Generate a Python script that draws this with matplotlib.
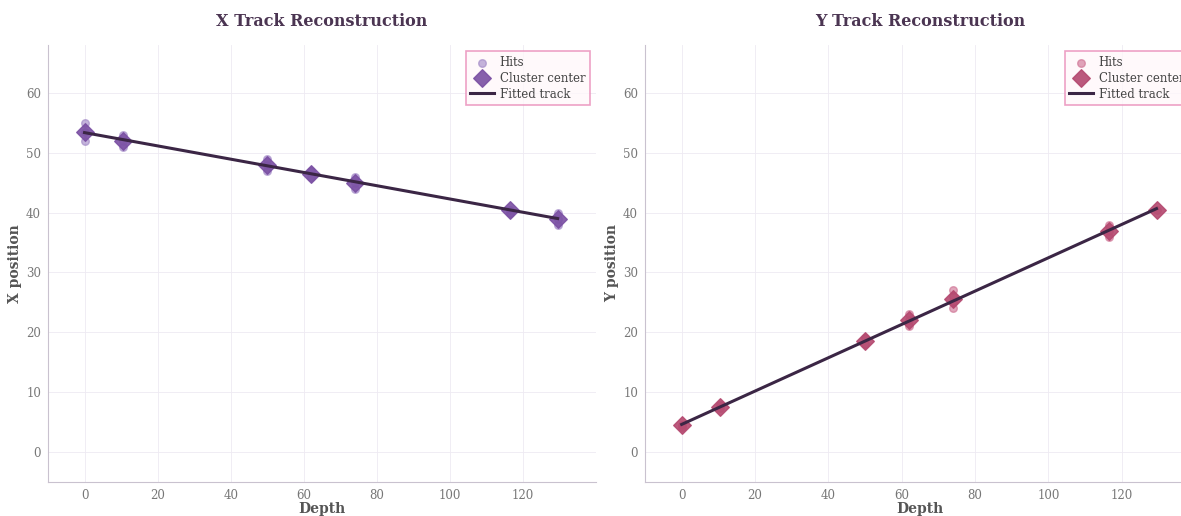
import matplotlib.pyplot as plt
import numpy as np

plt.rcParams['font.family'] = ['DejaVu Serif']

# cluster depths and centres
depths = [0, 10.5, 50, 62, 74, 116.5, 129.5]
x_centers = [53.5, 52.0, 48.0, 46.5, 45.0, 40.5, 39.0]
y_centers = [4.5, 7.5, 18.5, 22.0, 25.5, 37.0, 40.5]

# individual hits
x_hit_depth = [0, 0, 0, 10.5, 10.5, 10.5, 50, 50, 50, 62, 62, 74, 74, 74,
               116.5, 116.5, 129.5, 129.5, 129.5]
x_hit_pos = [55, 53.5, 52, 53, 52, 51, 49, 48, 47, 47, 46, 46, 45, 44,
             40.5, 40, 40, 39, 38]
y_hit_depth = [0, 0, 10.5, 10.5, 50, 50, 62, 62, 62, 74, 74, 74, 74,
               116.5, 116.5, 116.5, 129.5]
y_hit_pos = [4.5, 4.2, 7.8, 7.3, 19, 18, 23, 22, 21, 27, 26, 25, 24,
             38, 37, 36, 40.5]

fig = plt.figure(figsize=(11.81, 5.16), dpi=100)
ax1 = fig.add_axes([48/1181, 34/516, 548/1181, 437/516])
ax2 = fig.add_axes([645/1181, 34/516, 550/1181, 437/516])

panels = [
    (ax1, x_hit_depth, x_hit_pos, x_centers, '#9d83c4', '#7a4fa3', 'X position', 'X Track Reconstruction'),
    (ax2, y_hit_depth, y_hit_pos, y_centers, '#cc6b8e', '#b4486f', 'Y position', 'Y Track Reconstruction'),
]

for ax, hd, hp, cen, hc, cc, ylab, title in panels:
    ax.scatter(hd, hp, s=30, color=hc, alpha=0.6, label='Hits', zorder=2)
    ax.scatter(depths, cen, s=80, marker='D', color=cc, alpha=0.9,
               label='Cluster center', zorder=3)
    k, b = np.polyfit(depths, cen, 1)
    xs = np.array([depths[0], depths[-1]])
    ax.plot(xs, k * xs + b, color='#3b2645', lw=2.2, label='Fitted track', zorder=4)

    ax.set_xlim(-10, 140)
    ax.set_ylim(-5, 68)
    ax.set_xticks(range(0, 121, 20))
    ax.set_yticks(range(0, 61, 10))
    ax.grid(True, color='#eeeaf2', lw=0.6)
    ax.set_axisbelow(True)
    for s in ['top', 'right']:
        ax.spines[s].set_visible(False)
    for s in ['left', 'bottom']:
        ax.spines[s].set_color('#c9c2cf')
    ax.tick_params(colors='#777777', labelsize=8.5, length=0, pad=5)
    ax.set_xlabel('Depth', fontsize=10, fontweight='bold', color='#555555', labelpad=0)
    ax.set_ylabel(ylab, fontsize=10, fontweight='bold', color='#555555', labelpad=3)
    ax.set_title(title, fontsize=11.5, fontweight='bold', color='#4b3552', pad=14)
    leg = ax.legend(loc='upper right', fontsize=8.5, frameon=True, fancybox=False,
                    borderpad=0.4, handletextpad=0.5, labelspacing=0.25)
    leg.get_frame().set_edgecolor('#e98ab8')
    leg.get_frame().set_facecolor('#fff8fb')
    leg.get_frame().set_linewidth(1.2)
    for t in leg.get_texts():
        t.set_color('#444444')

fig.savefig('out.png', dpi=100)
